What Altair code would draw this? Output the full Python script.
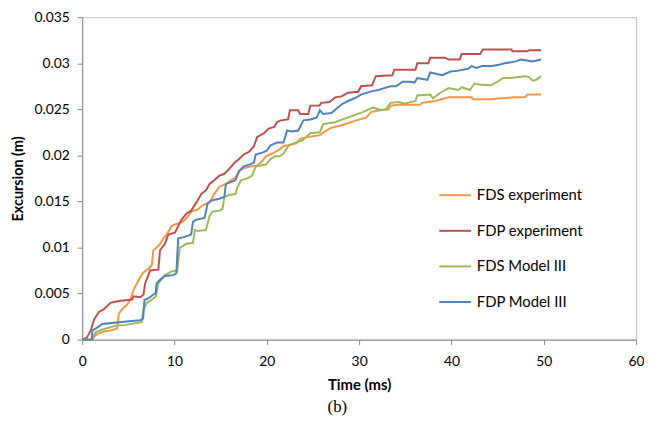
import altair as alt
import pandas as pd

# ---- data ----
series_names = ["FDS experiment", "FDP experiment", "FDS Model III", "FDP Model III"]
series_colors = ["#F79646", "#C0504D", "#9BBB59", "#4F81BD"]

fds_exp_t = [0, 1.1, 1.3, 1.64, 2.4, 3.07, 3.79, 3.96, 4.32, 4.86,
             5.21, 5.57, 5.93, 6.29, 6.64, 7.18, 7.54, 7.71, 8.07, 8.43,
             8.79, 9.14, 9.68, 10.04, 10.4, 10.9, 11.3, 11.8, 12.5, 13.07,
             13.8, 14.3, 14.86, 15.6, 16.1, 16.6, 17.0, 17.5, 18.2, 18.96,
             19.5, 19.9, 20.6, 21.3, 21.8, 23.2, 23.6, 24.5, 25.75, 26.3,
             27.0, 28.2, 29.7, 30.75, 31.3, 32.2, 33.2, 33.4, 34.3, 36.6,
             36.8, 38.25, 39.7, 42.2, 42.3, 44.3, 45.4, 46.8, 48.0, 48.2,
             49.7]
fds_exp_v = [0, 0, 0.0003, 0.0006, 0.0009, 0.001, 0.0012, 0.0028, 0.0033, 0.0038,
             0.0043, 0.0054, 0.0061, 0.0068, 0.0073, 0.0077, 0.0081, 0.0097, 0.01, 0.0104,
             0.011, 0.0114, 0.0123, 0.0125, 0.0126, 0.0128, 0.0132, 0.0139, 0.0141, 0.0146,
             0.0149, 0.0158, 0.0166, 0.0169, 0.0173, 0.0176, 0.0183, 0.0186, 0.0188, 0.0189,
             0.0194, 0.0199, 0.0202, 0.0206, 0.021, 0.0213, 0.0218, 0.022, 0.0222, 0.0226,
             0.023, 0.0233, 0.0238, 0.0241, 0.0247, 0.0249, 0.025, 0.0254, 0.0255, 0.0255,
             0.0257, 0.0259, 0.0263, 0.0263, 0.0261, 0.0261, 0.0262, 0.0263, 0.0263, 0.0266,
             0.0266]

fdp_exp_t = [0, 0.5, 0.93, 1.29, 1.82, 2.36, 3.07, 3.96, 5.4, 5.57,
             6.3, 6.64, 6.82, 7.36, 8.25, 8.43, 8.96, 9.32, 10.04, 10.4,
             10.75, 11.3, 11.8, 12.18, 12.5, 12.9, 13.4, 13.8, 14.3, 14.86,
             15.4, 15.9, 16.5, 17.0, 17.5, 18.1, 18.6, 18.96, 19.7, 20.2,
             20.8, 21.1, 21.5, 22.3, 22.5, 23.4, 23.6, 24.5, 24.7, 25.7,
             25.9, 26.8, 27.4, 28.1, 28.8, 29.9, 30.2, 31.4, 31.8, 33.6,
             33.8, 36.1, 36.3, 37.5, 37.7, 39.3, 39.7, 40.9, 41.1, 43.1,
             43.4, 46.5, 46.6, 48.2, 48.4, 49.7]
fdp_exp_v = [0, 0.0002, 0.001, 0.0022, 0.003, 0.0033, 0.004, 0.0042, 0.00435, 0.0047,
             0.0046, 0.0049, 0.0061, 0.0075, 0.0076, 0.0097, 0.0104, 0.0114, 0.0116, 0.0123,
             0.013, 0.0137, 0.014, 0.0146, 0.0151, 0.0158, 0.0162, 0.0169, 0.0173, 0.0178,
             0.018, 0.0185, 0.0192, 0.0196, 0.0201, 0.0204, 0.021, 0.022, 0.0224, 0.0229,
             0.0231, 0.0236, 0.0238, 0.0239, 0.0249, 0.0249, 0.0245, 0.0245, 0.0254, 0.0254,
             0.0257, 0.0258, 0.0263, 0.0264, 0.0268, 0.0269, 0.0275, 0.0276, 0.0286, 0.0287,
             0.0293, 0.0293, 0.03, 0.03, 0.0306, 0.0306, 0.0304, 0.0304, 0.031, 0.031,
             0.0315, 0.0315, 0.0313, 0.0313, 0.0314, 0.0314]

fds_mod_t = [0, 1.1, 1.46, 2.2, 2.9, 3.6, 4.68, 6.46, 6.64, 7.0,
             7.5, 8.0, 8.25, 8.96, 9.7, 10.3, 10.57, 10.8, 11.3, 12.0,
             12.2, 12.5, 13.4, 13.8, 14.1, 14.9, 15.2, 15.4, 15.9, 16.6,
             16.8, 17.2, 17.9, 18.4, 18.8, 19.3, 19.9, 20.4, 20.9, 21.4,
             21.8, 22.4, 22.9, 23.8, 24.7, 25.75, 26.1, 27.4, 28.2, 29.3,
             30.4, 31.5, 32.1, 32.5, 32.9, 33.4, 34.3, 34.9, 36.1, 36.3,
             37.7, 38.0, 38.8, 39.7, 40.75, 41.1, 42.0, 42.5, 43.0, 44.3,
             45.0, 45.6, 46.5, 47.2, 48.0, 48.4, 48.8, 49.2, 49.7]
fds_mod_v = [0, 0, 0.0008, 0.0011, 0.0013, 0.0015, 0.0016, 0.0019, 0.0033, 0.004,
             0.0043, 0.0047, 0.0061, 0.007, 0.0074, 0.0075, 0.01, 0.0101, 0.0104, 0.0105,
             0.0119, 0.0118, 0.0119, 0.0134, 0.0139, 0.014, 0.0142, 0.0155, 0.0157, 0.0158,
             0.0165, 0.0173, 0.0175, 0.0178, 0.0188, 0.0189, 0.019, 0.0196, 0.0199, 0.0199,
             0.0202, 0.0211, 0.0213, 0.0216, 0.0224, 0.0225, 0.0234, 0.0236, 0.0239, 0.0243,
             0.0247, 0.0252, 0.025, 0.0249, 0.025, 0.0257, 0.0258, 0.0256, 0.0259, 0.0265,
             0.0266, 0.0262, 0.0268, 0.0273, 0.0271, 0.0274, 0.0271, 0.0278, 0.0277, 0.0276,
             0.028, 0.0284, 0.0284, 0.0285, 0.0286, 0.0285, 0.0281, 0.0282, 0.0286]

fdp_mod_t = [0, 1.05, 1.1, 1.46, 2.18, 3.25, 5.04, 6.29, 6.6, 6.75,
             7.18, 7.71, 7.95, 8.07, 8.43, 8.96, 9.82, 10.2, 10.4, 10.93,
             11.8, 12.0, 12.3, 13.25, 13.6, 14.0, 14.86, 15.4, 15.57, 16.1,
             16.6, 17.0, 17.5, 18.1, 18.6, 18.8, 19.5, 20.0, 20.4, 21.1,
             21.8, 22.2, 22.7, 23.4, 23.96, 24.7, 25.4, 25.75, 26.1, 27.0,
             27.7, 28.2, 28.8, 29.7, 30.2, 31.5, 32.1, 32.7, 33.4, 34.0,
             34.7, 35.5, 36.0, 36.3, 37.4, 37.7, 39.0, 39.9, 40.75, 41.8,
             42.2, 42.7, 43.3, 44.4, 45.0, 45.75, 47.0, 47.5, 48.2, 48.8,
             49.7]
fdp_mod_v = [0, 0, 0.001, 0.0012, 0.0017, 0.0018, 0.002, 0.0021, 0.0023, 0.0043,
             0.0045, 0.0049, 0.005, 0.0061, 0.0065, 0.0069, 0.007, 0.0072, 0.011, 0.0111,
             0.0114, 0.0128, 0.013, 0.0132, 0.0148, 0.0151, 0.0153, 0.0155, 0.0169, 0.0171,
             0.0173, 0.0183, 0.0188, 0.019, 0.0192, 0.0201, 0.0203, 0.0205, 0.0211, 0.0214,
             0.0214, 0.0227, 0.0226, 0.0227, 0.0238, 0.0239, 0.0241, 0.0249, 0.0245, 0.0246,
             0.0252, 0.0256, 0.0259, 0.0263, 0.0266, 0.027, 0.0271, 0.0273, 0.0275, 0.0275,
             0.028, 0.028, 0.0279, 0.0284, 0.0282, 0.029, 0.0287, 0.0291, 0.0292, 0.0294,
             0.0297, 0.0295, 0.0297, 0.0297, 0.0298, 0.03, 0.0302, 0.0304, 0.0303, 0.0302,
             0.0304]

x_ticks = [0, 10, 20, 30, 40, 50, 60]
y_ticks = [0, 0.005, 0.01, 0.015, 0.02, 0.025, 0.03, 0.035]

# ---- build table ----
frames = []
for name, t, v in [(series_names[0], fds_exp_t, fds_exp_v),
                   (series_names[1], fdp_exp_t, fdp_exp_v),
                   (series_names[2], fds_mod_t, fds_mod_v),
                   (series_names[3], fdp_mod_t, fdp_mod_v)]:
    frames.append(pd.DataFrame({"t": t, "v": v, "series": name}))
df = pd.concat(frames, ignore_index=True)

FONT = "Lato"
AXIS_GRAY = "#868686"

chart = alt.Chart(df).mark_line(strokeWidth=2).encode(
    x=alt.X("t:Q", scale=alt.Scale(domain=[0, 60], nice=False),
            axis=alt.Axis(values=x_ticks, title="Time (ms)", grid=False,
                          labelFlush=False,
                          labelPadding=10, titlePadding=9, titleFontSize=15,
                          labelFontSize=14)),
    y=alt.Y("v:Q", scale=alt.Scale(domain=[0, 0.035], nice=False),
            axis=alt.Axis(values=y_ticks, format="~g", title="Excursion (m)", grid=False,
                          labelFlush=False,
                          labelPadding=8, titlePadding=9, titleFontSize=14.5,
                          labelFontSize=14)),
    color=alt.Color("series:N",
                    scale=alt.Scale(domain=series_names, range=series_colors),
                    legend=alt.Legend(title=None, orient="none", legendX=360, legendY=163,
                                      symbolType="stroke", symbolSize=1024,
                                      symbolStrokeWidth=2, labelFontSize=15,
                                      labelFont=FONT, labelColor="black",
                                      rowPadding=11, labelOffset=5, padding=0)),
    detail="series:N",
).properties(
    width=560, height=326,
    title=alt.TitleParams("(b)", orient="bottom", font="Liberation Serif", fontSize=17,
                          fontWeight="normal", anchor="middle", dx=-22, offset=7,
                          color="black"),
    autosize=alt.AutoSizeParams(type="none"),
    padding={"left": 75, "top": 7, "right": 8, "bottom": 82},
).configure_view(
    stroke="#BFBFBF", strokeWidth=1
).configure_axis(
    labelFont=FONT, labelColor="black",
    titleFont=FONT, titleFontWeight="bold", titleColor="black",
    domainColor=AXIS_GRAY, tickColor=AXIS_GRAY, tickSize=5, domainWidth=1, tickWidth=1,
)

chart.save("out.html", embed_options={"renderer": "svg", "actions": False})
